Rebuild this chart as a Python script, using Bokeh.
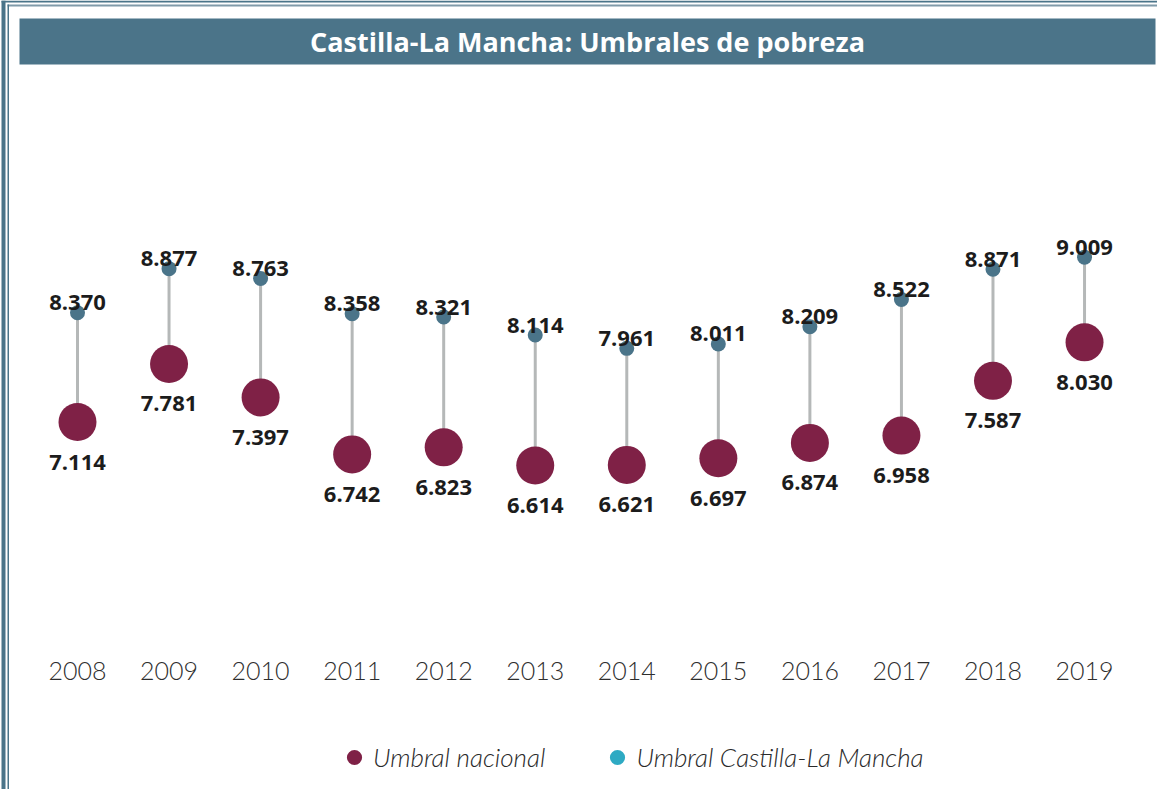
from bokeh.plotting import figure
from bokeh.models import (Range1d, FixedTicker, BoxAnnotation, Label, Legend,
                          LegendItem, ColumnDataSource)
from bokeh.core.properties import value
from bokeh.embed import file_html
from bokeh.resources import INLINE

# ---------------- data ----------------
years = [2008, 2009, 2010, 2011, 2012, 2013, 2014, 2015, 2016, 2017, 2018, 2019]
# maroon (large) dots - "Umbral nacional" in the legend
umbral_nacional = [7114, 7781, 7397, 6742, 6823, 6614, 6621, 6697, 6874, 6958, 7587, 8030]
# small blue dots - "Umbral Castilla-La Mancha" in the legend
umbral_clm = [8370, 8877, 8763, 8358, 8321, 8114, 7961, 8011, 8209, 8522, 8871, 9009]
title_text = "Castilla-La Mancha: Umbrales de pobreza"
legend_labels = ["Umbral nacional", "Umbral Castilla-La Mancha"]


def fmt(v):
    return f"{v:,}".replace(",", ".")


W, H = 1157, 789
MAROON = "#7f2146"
BLUE = "#4a7489"
CYAN = "#2eaac3"
LINE = "#b5b8b8"

src = ColumnDataSource(dict(
    x=years, nac=umbral_nacional, clm=umbral_clm,
    nac_lbl=[fmt(v) for v in umbral_nacional],
    clm_lbl=[fmt(v) for v in umbral_clm],
))

p = figure(width=W, height=H, x_range=Range1d(2007.159, 2019.797),
           y_range=Range1d(2890, 11959), y_axis_location=None,
           toolbar_location=None, output_backend="svg",
           min_border_left=0, min_border_right=0, min_border_top=0,
           min_border_bottom=0, outline_line_color=None,
           background_fill_color="white", border_fill_color="white")
p.xgrid.visible = False
p.ygrid.visible = False

# x axis (years), drawn inside the plot area
ax = p.xaxis[0]
ax.fixed_location = 4476
ax.ticker = FixedTicker(ticks=years)
ax.axis_line_color = None
ax.major_tick_line_color = None
ax.minor_tick_line_color = None
ax.major_tick_out = 0
ax.major_tick_in = 0
ax.minor_tick_out = 0
ax.major_label_standoff = 10
ax.major_label_text_font = "Lato Light"
ax.major_label_text_font_size = "25px"
ax.major_label_text_color = "#2e2e2e"

# frame decoration
def box(l, r, t, b, color):
    return BoxAnnotation(left=l, right=r, top=t, bottom=b,
                         left_units="canvas", right_units="canvas",
                         top_units="canvas", bottom_units="canvas",
                         fill_color=color, fill_alpha=1, line_color=None,
                         level="underlay")

p.add_layout(box(1, W, 0, 2, BLUE))
p.add_layout(box(7, W, 4, 6, "#7f9aa9"))
p.add_layout(box(1, 5, 0, H, BLUE))
p.add_layout(box(7, 8.5, 4, H, BLUE))
p.add_layout(box(19, 1155, 18, 64, "#4b7489"))

p.add_layout(Label(x=587, y=41, x_units="canvas", y_units="canvas",
                   text=title_text, text_align="center", text_baseline="middle",
                   text_color="white", text_font="Open Sans", text_font_style="bold",
                   text_font_size="27px"))

# connectors
p.segment(x0="x", y0="nac", x1="x", y1="clm", source=src,
          line_color=LINE, line_width=3)
# dots
r_small = p.scatter(x="x", y="clm", source=src, size=15, fill_color=BLUE, line_color=None)
r_big = p.scatter(x="x", y="nac", source=src, size=38, fill_color=MAROON, line_color=None)

# value labels
p.text(x="x", y="clm", text="clm_lbl", source=src, text_align="center",
       text_baseline="alphabetic", y_offset=-10, text_font=value("Open Sans"),
       text_font_style="bold", text_font_size="22px", text_color="#1c1c1c")
p.text(x="x", y="nac", text="nac_lbl", source=src, text_align="center",
       text_baseline="alphabetic", y_offset=40, text_font=value("Open Sans"),
       text_font_style="bold", text_font_size="22px", text_color="#1c1c1c")

# legend (legend colours as in the original; hidden renderers only feed the legend)
r_leg1 = p.scatter(x="x", y="nac", source=src, size=15, fill_color=MAROON,
                   line_color=None, visible=False)
r_leg2 = p.scatter(x="x", y="clm", source=src, size=15, fill_color=CYAN,
                   line_color=None, visible=False)
legend = Legend(items=[LegendItem(label=legend_labels[0], renderers=[r_leg1], index=0),
                       LegendItem(label=legend_labels[1], renderers=[r_leg2], index=0)],
                orientation="horizontal", location=(335, 13),
                glyph_width=38, glyph_height=38, label_standoff=0, spacing=53,
                padding=0, margin=0, border_line_color=None,
                background_fill_alpha=0, label_text_font="Lato Light",
                label_text_font_style="italic", label_text_font_size="26px",
                label_text_color="#2a2a2a")
p.add_layout(legend, "center")

open("out.html", "w").write(file_html(p, INLINE))
